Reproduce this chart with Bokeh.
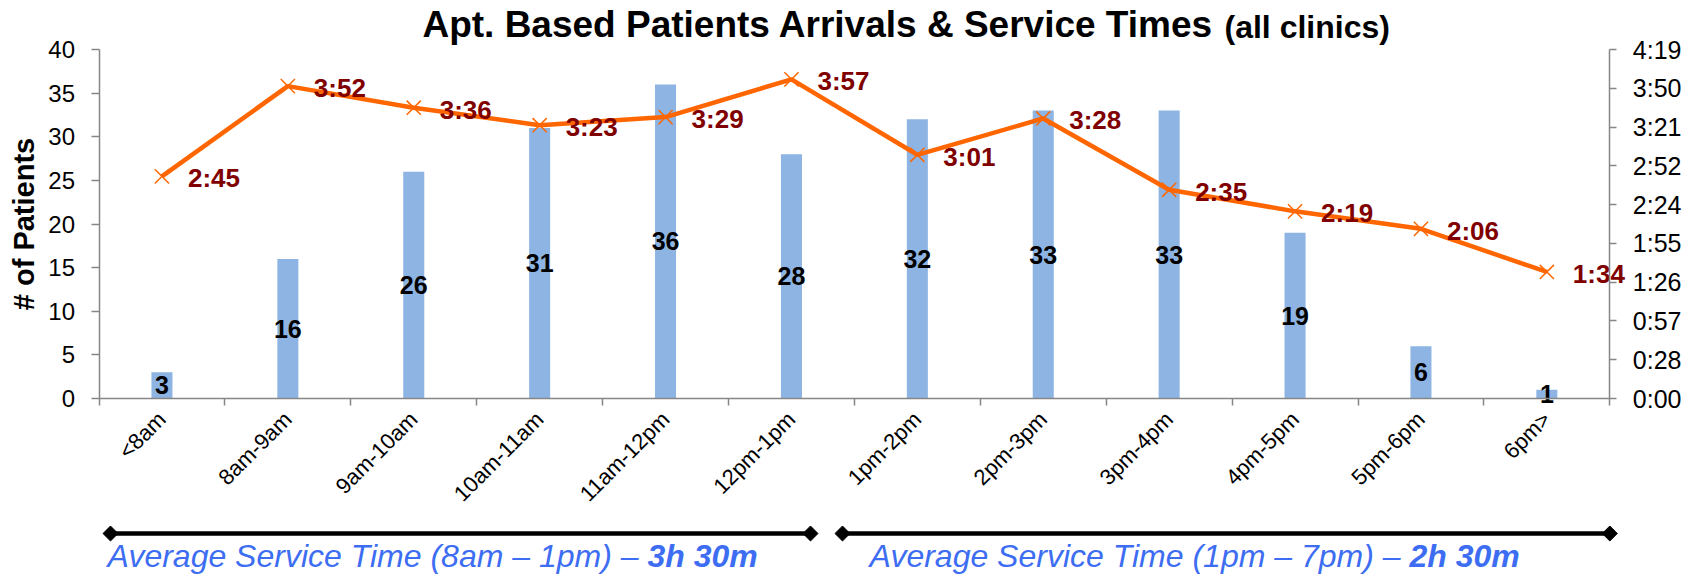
import math
from bokeh.plotting import figure
from bokeh.models import (Range1d, LinearAxis, FixedTicker, CustomJSTickFormatter,
                          ColumnDataSource)
from bokeh.embed import file_html
from bokeh.resources import INLINE
from bokeh.core.properties import value

# ---------------- data ----------------
categories = ["<8am", "8am-9am", "9am-10am", "10am-11am", "11am-12pm", "12pm-1pm",
              "1pm-2pm", "2pm-3pm", "3pm-4pm", "4pm-5pm", "5pm-6pm", "6pm>"]
patients = [3, 16, 26, 31, 36, 28, 32, 33, 33, 19, 6, 1]
service_times = ["2:45", "3:52", "3:36", "3:23", "3:29", "3:57",
                 "3:01", "3:28", "2:35", "2:19", "2:06", "1:34"]
left_ticks = [0, 5, 10, 15, 20, 25, 30, 35, 40]
right_tick_minutes = [0, 28.8, 57.6, 86.4, 115.2, 144.0, 172.8, 201.6, 230.4, 259.2]
period_texts = ["Average Service Time (8am \u2013 1pm) \u2013",
                "Average Service Time (1pm \u2013 7pm) \u2013"]
period_values = ["3h 30m", "2h 30m"]

title_main = "Apt. Based Patients Arrivals & Service Times"
title_sub = "(all clinics)"

# ---------------- layout constants (canvas pixels) ----------------
W, H = 1696, 574
FRAME_L, FRAME_R = 98.5, 1609.3   # x of left / right value axes
FRAME_T, FRAME_B = 49, 398        # y of 40 patients / 0 patients
N = len(categories)
YMAX = left_ticks[-1]
TMAX = right_tick_minutes[-1]
UNIT = (FRAME_R - FRAME_L) / N
YPX = (FRAME_B - FRAME_T) / YMAX

x_start = -FRAME_L / UNIT
x_end = N + (W - FRAME_R) / UNIT
y_start = -(H - FRAME_B) / YPX
y_end = YMAX + FRAME_T / YPX
k_time = TMAX / YMAX

def cx(px):  # canvas x -> data x (annotation placement only)
    return x_start + px / UNIT

def cy(py):  # canvas y -> data y (annotation placement only)
    return y_end - py / YPX

FONT = "Liberation Sans"
AXIS_GREY = "#868686"
BAR_BLUE = "#8DB4E2"
ORANGE = "#FF6600"
MAROON = "#800000"
CAPTION_BLUE = "#3D6DF2"

def to_minutes(s):
    h, m = s.split(":")
    return int(h) * 60 + int(m)

minutes = [to_minutes(s) for s in service_times]
xc = [i + 0.5 for i in range(N)]

# ---------------- figure: frame covers the whole canvas ----------------
p = figure(width=W, height=H, x_range=Range1d(x_start, x_end), y_range=Range1d(y_start, y_end),
           toolbar_location=None, output_backend="svg", title=None, min_border=0,
           outline_line_color=None, background_fill_color="white", border_fill_color="white")
p.extra_y_ranges = {"time": Range1d(y_start * k_time, y_end * k_time)}
p.xgrid.grid_line_color = None
p.ygrid.grid_line_color = None

# x axis at y = 0: labels at centres, tick marks at category boundaries
xa = p.xaxis[0]
xa.fixed_location = 0
xa.bounds = (0, N)
xa.ticker = FixedTicker(ticks=xc, minor_ticks=list(range(N + 1)))
xa.formatter = CustomJSTickFormatter(
    args=dict(labels=categories),
    code="const i = Math.floor(tick); return (i >= 0 && i < labels.length) ? labels[i] : '';")
xa.major_label_orientation = math.pi / 4
xa.major_tick_line_color = None
xa.major_tick_out = 0
xa.major_tick_in = 0
xa.minor_tick_line_color = AXIS_GREY
xa.minor_tick_line_width = 1.5
xa.minor_tick_out = 7
xa.minor_tick_in = 0
xa.axis_line_color = AXIS_GREY
xa.axis_line_width = 1.5
xa.major_label_text_font = FONT
xa.major_label_text_font_size = "22px"
xa.major_label_text_color = "black"
xa.major_label_standoff = 10

ya = p.yaxis[0]
ya.fixed_location = 0
ya.bounds = (0, YMAX)
ya.ticker = FixedTicker(ticks=left_ticks)
ya.minor_tick_line_color = None
ya.major_tick_line_color = AXIS_GREY
ya.major_tick_line_width = 1.5
ya.major_tick_out = 8
ya.major_tick_in = 0
ya.axis_line_color = AXIS_GREY
ya.axis_line_width = 1.5
ya.major_label_text_font = FONT
ya.major_label_text_font_size = "24px"
ya.major_label_text_color = "black"
ya.major_label_standoff = 16
ya.axis_label = "# of Patients"
ya.axis_label_text_font = FONT
ya.axis_label_text_font_size = "29px"
ya.axis_label_text_font_style = "bold"
ya.axis_label_text_color = "black"
ya.axis_label_standoff = 6

ra = LinearAxis(y_range_name="time",
                ticker=FixedTicker(ticks=right_tick_minutes),
                formatter=CustomJSTickFormatter(code="""
                    const m = Math.floor(tick + 1e-6);
                    const h = Math.floor(m / 60);
                    const mm = m % 60;
                    return h + ':' + (mm < 10 ? '0' : '') + mm;"""))
ra.fixed_location = N
ra.bounds = (0, TMAX)
ra.minor_tick_line_color = None
ra.major_tick_line_color = AXIS_GREY
ra.major_tick_line_width = 1.5
ra.major_tick_out = 7
ra.major_tick_in = 0
ra.axis_line_color = AXIS_GREY
ra.axis_line_width = 1.5
ra.major_label_text_font = FONT
ra.major_label_text_font_size = "25px"
ra.major_label_text_color = "black"
ra.major_label_standoff = 16
p.add_layout(ra, "right")

# bars + value labels
bar_src = ColumnDataSource(dict(x=xc, top=patients, mid=[v / 2 for v in patients],
                                txt=[str(v) for v in patients]))
p.vbar(x="x", top="top", width=0.167, source=bar_src, fill_color=BAR_BLUE, line_color=None)
p.text(x="x", y="mid", text="txt", source=bar_src, text_align="center", text_baseline="middle",
       text_font=value(FONT), text_font_size="25px", text_font_style="bold", text_color="black")

# service-time line + labels
line_src = ColumnDataSource(dict(x=xc, y=minutes, txt=service_times))
p.line(x="x", y="y", source=line_src, y_range_name="time", line_color=ORANGE, line_width=4.5)
p.scatter(x="x", y="y", source=line_src, y_range_name="time", marker="x", size=20,
          line_color=ORANGE, line_width=1.5)
p.text(x="x", y="y", text="txt", source=line_src, y_range_name="time",
       x_offset=26, y_offset=2, text_align="left", text_baseline="middle",
       text_font=value(FONT), text_font_size="26px", text_font_style="bold", text_color=MAROON)

# title (two parts, joined at one point; vertical centres give a shared baseline)
title_x = cx(1213)
p.text(x=[title_x], y=[cy(24)], text=[title_main], text_align="right",
       text_baseline="middle", text_font=value(FONT), text_font_size="37px",
       text_font_style="bold", text_color="black")
p.text(x=[title_x], y=[cy(26)], text=[title_sub], x_offset=11, text_align="left",
       text_baseline="middle", text_font=value(FONT), text_font_size="32px",
       text_font_style="bold", text_color="black")

# period arrows and captions under the axis
period_start = [cx(110), cx(842)]
period_end = [cx(810), float(N)]
period_value_x = [cx(647), cx(1409)]
arrow_y = cy(533)
text_y = cy(555)

p.segment(x0=period_start, y0=[arrow_y] * 2, x1=period_end, y1=[arrow_y] * 2,
          line_color="black", line_width=4.5)
p.scatter(x=period_start + period_end, y=[arrow_y] * 4, marker="square", size=10.6,
          angle=math.pi / 4, fill_color="black", line_color="black")
p.text(x=period_value_x, y=[text_y] * 2, text=period_texts, x_offset=-9,
       text_align="right", text_baseline="middle", text_font=value(FONT),
       text_font_size="32px", text_font_style="italic", text_color=CAPTION_BLUE)
p.text(x=period_value_x, y=[text_y] * 2, text=period_values,
       text_align="left", text_baseline="middle", text_font=value(FONT),
       text_font_size="32px", text_font_style="bold italic", text_color=CAPTION_BLUE)

open("out.html", "w").write(file_html(p, INLINE))
